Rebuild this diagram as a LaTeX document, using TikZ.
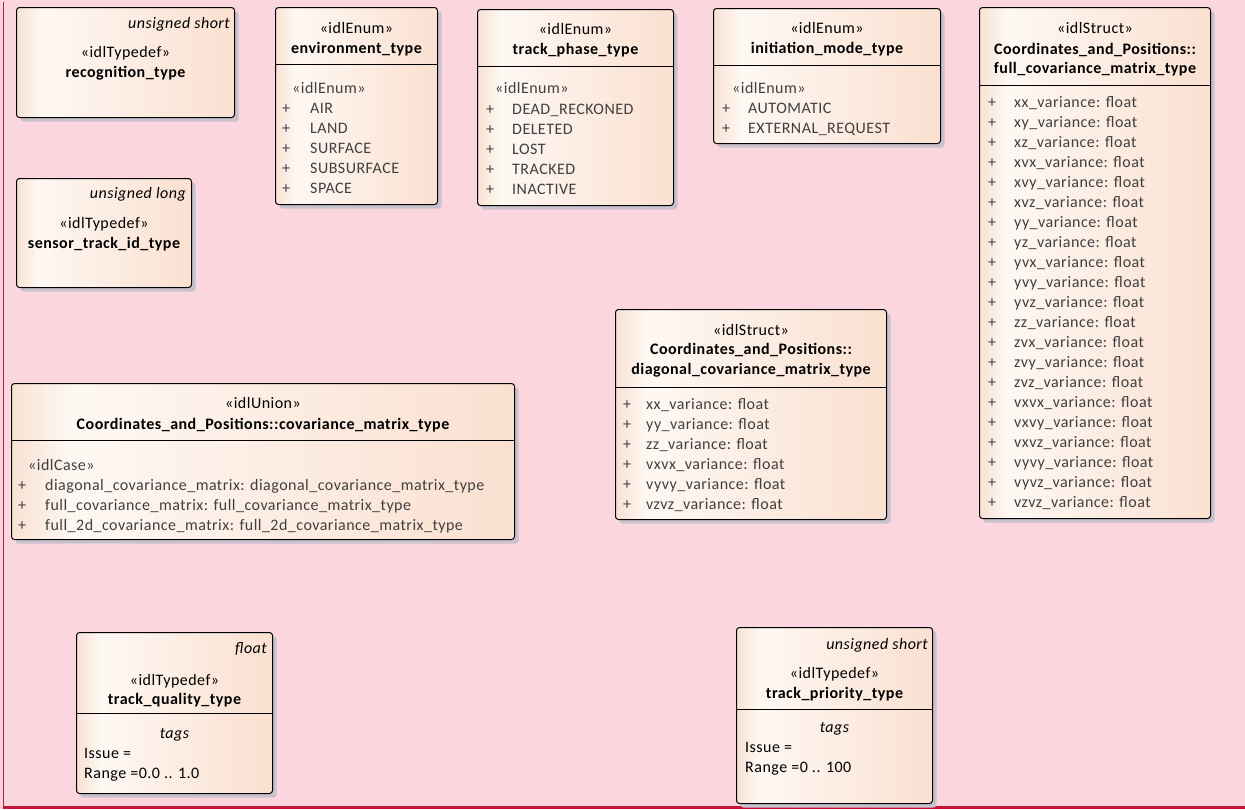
\documentclass[tikz,border=0pt]{standalone}
\usepackage{fontspec}
\setmainfont{Carlito}[LetterSpace=3]
\usetikzlibrary{shadows}

\definecolor{pagebg}{RGB}{252,214,222}
\definecolor{framered}{RGB}{196,22,58}
\definecolor{boxedge}{RGB}{248,226,212}
\definecolor{boxlight}{RGB}{254,248,243}
\definecolor{boxright}{RGB}{250,224,208}
\definecolor{shadowgray}{RGB}{200,194,204}
\definecolor{itemgray}{RGB}{64,64,64}

\pgfdeclarehorizontalshading{boxshade}{100bp}{color(0bp)=(boxedge); color(25bp)=(boxedge); color(31bp)=(boxlight); color(75bp)=(boxright); color(100bp)=(boxright)}

\tikzset{
  umlbox/.style={draw=black, line width=1pt, rounded corners=3pt, shading=boxshade,
    anchor=north west, inner sep=0pt,
    drop shadow={shadow xshift=4pt, shadow yshift=-4pt, fill=shadowgray, opacity=1}},
  stereo/.style={anchor=base, inner sep=0pt, font=\fontsize{16}{20}\selectfont},
  title/.style={stereo, font=\fontsize{16}{20}\selectfont\bfseries},
  basetype/.style={anchor=base east, inner sep=0pt, font=\fontsize{16}{20}\selectfont\itshape},
  tagtext/.style={anchor=base west, inner sep=0pt, font=\fontsize{16}{20}\selectfont},
  item/.style={anchor=base west, inner sep=0pt, text=itemgray, font=\fontsize{16}{20}\selectfont},
  sep/.style={line width=1pt},
}

\begin{document}
\begin{tikzpicture}[x=1pt,y=-1pt]
\fill[pagebg] (0,0) rectangle (1245,809);
\useasboundingbox (0,0) rectangle (1245,809);
\draw[framered, line width=1pt] (3.5,2) -- (3.5,806);
\draw[framered, line width=2.5pt] (3,807.5) -- (1245,807.5);

% typedefs
\node[umlbox, minimum width=218, minimum height=110] (recog) at (16,7) {};
\node[basetype] (recog-base) at (230,28) {unsigned short};
\node[stereo] (recog-st) at (recog.center |- 0,57) {«idlTypedef»};
\node[title] (recog-name) at (recog.center |- 0,77) {recognition\_type};

\node[umlbox, minimum width=175, minimum height=109] (sensor) at (16,178) {};
\node[basetype] (sensor-base) at (186,198) {unsigned long};
\node[stereo] (sensor-st) at (sensor.center |- 0,228) {«idlTypedef»};
\node[title] (sensor-name) at (sensor.center |- 0,248) {sensor\_track\_id\_type};

% enums
\node[umlbox, minimum width=162, minimum height=197] (envtype) at (275,7) {};
\node[stereo] (envtype-st) at (envtype.center |- 0,33) {«idlEnum»};
\node[title] (envtype-name) at (envtype.center |- 0,53) {environment\_type};
\draw[sep] (envtype.west |- 0,64) -- (envtype.east |- 0,64);
\node[item] (envtype-lit) at (292,93) {«idlEnum»};
\foreach \v [count=\i from 0] in {AIR,LAND,SURFACE,SUBSURFACE,SPACE}
  \node[item] (envtype-\i) at (282,113+20*\i) {\makebox[28pt][l]{+}\v};

\node[umlbox, minimum width=196, minimum height=196] (phase) at (477,9) {};
\node[stereo] (phase-st) at (phase.center |- 0,34) {«idlEnum»};
\node[title] (phase-name) at (phase.center |- 0,54) {track\_phase\_type};
\draw[sep] (phase.west |- 0,66) -- (phase.east |- 0,66);
\node[item] (phase-lit) at (495,93) {«idlEnum»};
\foreach \v [count=\i from 0] in {DEAD\_RECKONED,DELETED,LOST,TRACKED,INACTIVE}
  \node[item] (phase-\i) at (486,114+20*\i) {\makebox[26pt][l]{+}\v};

\node[umlbox, minimum width=227, minimum height=135] (initmode) at (713,8) {};
\node[stereo] (initmode-st) at (initmode.center |- 0,33) {«idlEnum»};
\node[title] (initmode-name) at (initmode.center |- 0,53) {initiation\_mode\_type};
\draw[sep] (initmode.west |- 0,65) -- (initmode.east |- 0,65);
\node[item] (initmode-lit) at (732,93) {«idlEnum»};
\foreach \v [count=\i from 0] in {AUTOMATIC,EXTERNAL\_REQUEST}
  \node[item] (initmode-\i) at (722,113+20*\i) {\makebox[26pt][l]{+}\v};

% structs
\node[umlbox, minimum width=231, minimum height=511] (fullcov) at (979,7) {};
\node[stereo] (fullcov-st) at (fullcov.center |- 0,33) {«idlStruct»};
\node[title] (fullcov-pkg) at (fullcov.center |- 0,54) {Coordinates\_and\_Positions::};
\node[title] (fullcov-name) at (fullcov.center |- 0,73) {full\_covariance\_matrix\_type};
\draw[sep] (fullcov.west |- 0,85) -- (fullcov.east |- 0,85);
\foreach \v [count=\i from 0] in {xx,xy,xz,xvx,xvy,xvz,yy,yz,yvx,yvy,yvz,zz,zvx,zvy,zvz,vxvx,vxvy,vxvz,vyvy,vyvz,vzvz}
  \node[item] (fullcov-\i) at (988,107+20*\i) {\makebox[26pt][l]{+}\v\_variance: float};

\node[umlbox, minimum width=271, minimum height=210] (diagcov) at (615,309) {};
\node[stereo] (diagcov-st) at (diagcov.center |- 0,335) {«idlStruct»};
\node[title] (diagcov-pkg) at (diagcov.center |- 0,354) {Coordinates\_and\_Positions::};
\node[title] (diagcov-name) at (diagcov.center |- 0,374) {diagonal\_covariance\_matrix\_type};
\draw[sep] (diagcov.west |- 0,387) -- (diagcov.east |- 0,387);
\foreach \v [count=\i from 0] in {xx,yy,zz,vxvx,vyvy,vzvz}
  \node[item] (diagcov-\i) at (623,409+20*\i) {\makebox[23pt][l]{+}\v\_variance: float};

% union
\node[umlbox, minimum width=503, minimum height=156] (covunion) at (11,383) {};
\node[stereo] (covunion-st) at (covunion.center |- 0,408) {«idlUnion»};
\node[title] (covunion-name) at (covunion.center |- 0,429) {Coordinates\_and\_Positions::covariance\_matrix\_type};
\draw[sep] (covunion.west |- 0,440) -- (covunion.east |- 0,440);
\node[item] (covunion-lit) at (28,470) {«idlCase»};
\foreach \v [count=\i from 0] in {diagonal,full,full\_2d}
  \node[item] (covunion-\i) at (18,490+20*\i) {\makebox[27pt][l]{+}\v\_covariance\_matrix: \v\_covariance\_matrix\_type};

% tagged typedefs
\node[umlbox, minimum width=196, minimum height=161] (quality) at (76,632) {};
\node[basetype] (quality-base) at (267,653) {float};
\node[stereo] (quality-st) at (quality.center |- 0,685) {«idlTypedef»};
\node[title] (quality-name) at (quality.center |- 0,704) {track\_quality\_type};
\draw[sep] (quality.west |- 0,713) -- (quality.east |- 0,713);
\node[stereo, font=\fontsize{16}{20}\selectfont\itshape] (quality-tags) at (quality.center |- 0,738) {tags};
\node[tagtext] (quality-issue) at (84,758) {Issue =};
\node[tagtext] (quality-range) at (84,778) {Range =0.0 .. 1.0};

\node[umlbox, minimum width=196, minimum height=176] (priority) at (736,627) {};
\node[basetype] (priority-base) at (928,649) {unsigned short};
\node[stereo] (priority-st) at (priority.center |- 0,678) {«idlTypedef»};
\node[title] (priority-name) at (priority.center |- 0,698) {track\_priority\_type};
\draw[sep] (priority.west |- 0,709) -- (priority.east |- 0,709);
\node[stereo, font=\fontsize{16}{20}\selectfont\itshape] (priority-tags) at (priority.center |- 0,732) {tags};
\node[tagtext] (priority-issue) at (745,752) {Issue =};
\node[tagtext] (priority-range) at (745,772) {Range =0 .. 100};
\end{tikzpicture}
\end{document}
